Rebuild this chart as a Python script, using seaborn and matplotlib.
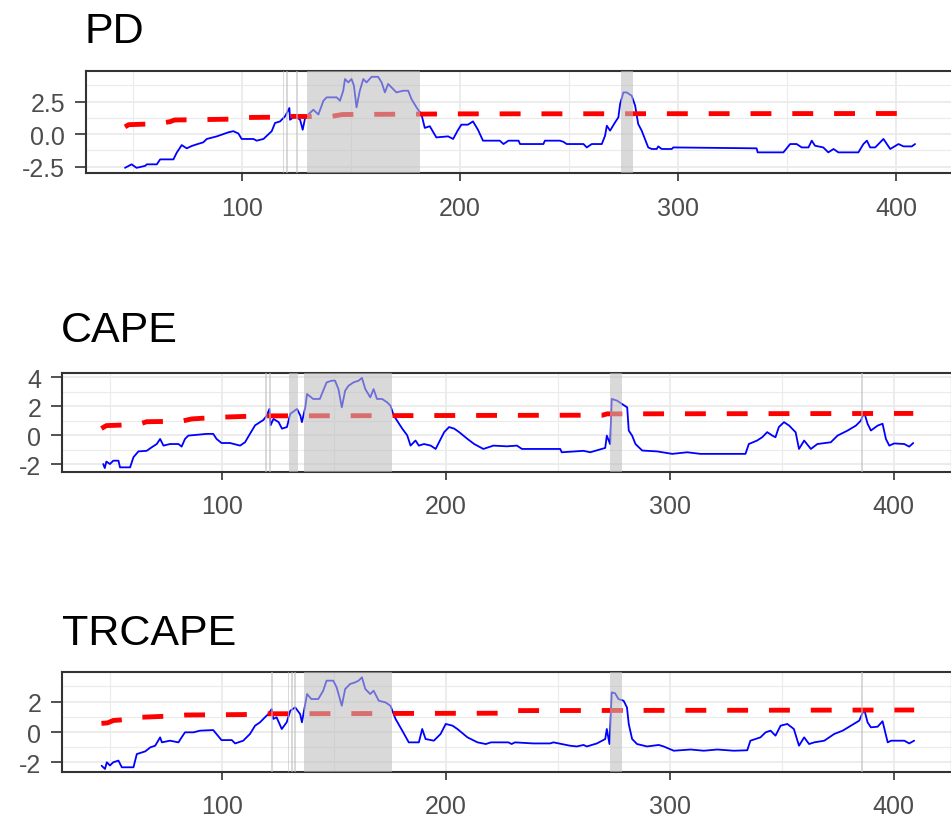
import matplotlib
matplotlib.use("Agg")
import matplotlib.pyplot as plt
import seaborn as sns

# ---------------- data ----------------
titles = ["PD", "CAPE", "TRCAPE"]
x_ticks = [100, 200, 300, 400]
x_minor = [50, 150, 250, 350]

# PD blue series
pd_x = [46.3, 49.3, 51.6, 55.5, 56.3, 60.9, 62.4, 68.5, 70.0, 72.3,
        74.6, 76.9, 80.0, 82.2, 83.8, 88.4, 93.7, 96.0, 98.3, 99.8,
        105.2, 106.7, 109.8, 113.6, 115.1, 117.4, 119.7, 121.7, 122.0, 124.3,
        126.6, 127.8, 128.9, 130.4, 132.7, 135.0, 137.3, 138.8, 143.4, 144.9,
        146.4, 147.2, 148.7, 150.2, 151.3, 152.5, 154.0, 155.6, 157.1, 159.4,
        162.4, 164.0, 165.5, 167.0, 169.3, 170.8, 173.9, 176.2, 177.7, 180.0,
        182.3, 183.8, 186.1, 189.1, 194.5, 196.8, 199.1, 200.6, 203.6, 205.9,
        208.2, 210.5, 218.2, 219.9, 222.2, 226.8, 227.5, 238.2, 238.9, 245.8,
        247.4, 248.9, 256.6, 258.1, 260.4, 265.0, 266.5, 267.3, 268.8, 271.1,
        272.6, 273.4, 274.9, 276.4, 278.7, 280.3, 281.7, 283.3, 284.8, 286.3,
        287.9, 290.2, 290.9, 292.5, 297.1, 297.8, 336.0, 336.5, 348.3, 351.4,
        354.4, 356.7, 359.8, 361.3, 362.8, 366.6, 368.9, 371.3, 373.5, 382.7,
        385.0, 386.6, 388.1, 390.4, 394.2, 397.3, 401.1, 403.4, 407.2, 408.7]
pd_y = [-2.6, -2.33, -2.6, -2.45, -2.33, -2.33, -1.95, -1.95, -1.44, -0.85,
        -1.1, -0.92, -0.75, -0.64, -0.38, -0.18, 0.13, 0.22, 0.04, -0.38,
        -0.38, -0.51, -0.38, 0.22, 0.85, 0.97, 1.36, 2.0, 1.1, 1.36,
        1.1, 0.33, 1.23, 1.5, 1.87, 1.5, 2.56, 2.82, 2.82, 2.56,
        3.33, 4.23, 3.97, 4.23, 3.72, 2.05, 3.33, 4.23, 3.97, 4.4,
        4.4, 3.97, 3.2, 3.85, 3.46, 3.2, 3.33, 3.33, 2.69, 2.05,
        1.5, 0.47, 0.6, -0.26, -0.18, -0.38, 0.33, 0.72, 0.72, 0.97,
        0.33, -0.51, -0.51, -0.77, -0.51, -0.51, -0.77, -0.77, -0.51, -0.51,
        -0.6, -0.77, -0.77, -1.03, -0.77, -0.77, -0.13, 0.64, 0.26, 0.90,
        1.28, 2.31, 3.2, 3.2, 2.95, 2.18, 0.77, 0.26, -0.38, -1.03,
        -1.15, -1.15, -0.95, -1.15, -1.15, -1.03, -1.1, -1.41, -1.41, -0.77,
        -0.77, -1.03, -1.03, -0.51, -0.9, -1.03, -1.41, -1.15, -1.41, -1.41,
        -0.77, -0.51, -1.03, -1.03, -0.38, -1.15, -0.77, -0.95, -0.95, -0.77]
# PD critical values (red dashed)
pd_cx = [46.3, 48.0, 63.0, 65.0, 67.0, 69.0, 98.0, 101.0, 118.0, 121.0, 140.0, 146.0, 200.0, 408.7]
pd_cy = [0.55, 0.72, 0.80, 0.90, 0.95, 1.08, 1.15, 1.27, 1.30, 1.36, 1.33, 1.50, 1.55, 1.58]
pd_span_start = [118.6, 120.2, 124.7, 129.7, 273.9]
pd_span_end = [119.4, 121.0, 125.5, 181.7, 279.4]

# CAPE blue series
cape_x = [47.1, 47.8, 48.5, 50.1, 51.6, 53.9, 54.6, 59.1, 60.6, 62.8,
          66.5, 68.7, 71.0, 72.5, 74.0, 76.9, 80.7, 82.1, 83.6, 85.1,
          89.6, 93.3, 96.2, 97.7, 99.9, 103.7, 108.2, 110.4, 112.6, 114.9,
          117.1, 118.6, 120.1, 121.3, 121.8, 123.1, 125.4, 126.9, 129.1, 130.6,
          133.6, 135.1, 135.8, 137.3, 138.1, 140.8, 143.8, 145.3, 146.8, 149.1,
          150.6, 152.1, 153.6, 155.1, 156.6, 158.8, 161.1, 162.6, 164.1, 166.3,
          167.8, 169.3, 171.6, 173.8, 175.3, 176.8, 178.3, 180.6, 182.8, 184.3,
          186.5, 188.0, 190.3, 193.3, 195.5, 197.0, 199.3, 201.5, 203.8, 206.0,
          209.7, 212.7, 216.8, 221.3, 227.3, 231.8, 234.0, 239.2, 251.1, 251.8,
          261.5, 264.5, 271.2, 271.9, 273.4, 274.1, 276.5, 278.7, 281.0, 281.7,
          283.2, 284.7, 287.7, 294.4, 301.1, 307.8, 313.7, 324.1, 333.8, 335.3,
          339.0, 341.3, 343.5, 345.8, 347.2, 348.7, 351.0, 353.3, 356.2, 357.7,
          360.0, 363.0, 365.9, 371.9, 374.9, 379.4, 383.1, 385.3, 386.8, 388.3,
          389.8, 392.8, 395.0, 396.5, 398.0, 400.2, 404.7, 406.9, 408.7]
cape_y = [-1.97, -2.25, -1.8, -1.97, -1.74, -1.74, -2.2, -2.2, -1.5, -1.1,
          -1.06, -0.82, -0.59, -0.24, -0.70, -0.59, -0.59, -0.77, -0.24, -0.01,
          0.06, 0.11, 0.11, -0.24, -0.52, -0.52, -0.70, -0.47, 0.11, 0.70,
          0.92, 1.07, 1.37, 1.83, 0.70, 1.14, 0.92, 0.47, 0.58, 1.49,
          1.83, 1.37, 0.92, 1.94, 2.86, 2.52, 2.52, 3.09, 3.66, 3.78,
          3.78, 3.2, 1.94, 3.09, 3.43, 3.66, 3.78, 3.97, 3.2, 2.63,
          3.2, 2.52, 2.52, 2.29, 2.06, 1.37, 1.02, 0.47, 0.01, -0.70,
          -0.35, -0.70, -0.59, -0.70, -0.93, -0.47, 0.23, 0.58, 0.47, 0.23,
          -0.24, -0.59, -0.93, -0.70, -0.75, -0.70, -0.93, -0.93, -0.93, -1.16,
          -1.06, -1.16, -0.86, -0.01, -0.6, 2.52, 2.4, 2.17, 1.94, 0.34,
          -0.01, -0.59, -1.04, -1.1, -1.27, -1.16, -1.27, -1.27, -1.27, -0.59,
          -0.35, -0.12, 0.23, -0.01, -0.12, 0.58, 0.92, 0.68, 0.22, -0.93,
          -0.35, -0.93, -0.59, -0.47, -0.01, 0.34, 0.68, 1.02, 1.60, 0.81,
          0.34, 0.68, 0.81, -0.24, -0.70, -0.55, -0.59, -0.77, -0.52]
cape_cx = [46.3, 48.5, 62.0, 64.0, 66.5, 82.0, 86.6, 97.7, 117.0, 270.0, 272.0, 408.7]
cape_cy = [0.48, 0.68, 0.75, 0.82, 0.95, 0.98, 1.14, 1.25, 1.35, 1.40, 1.49, 1.52]
cape_span_start = [119.5, 121.3, 130.0, 136.7, 273.3, 385.3]
cape_span_end = [120.3, 122.1, 134.0, 175.9, 278.8, 386.1]

# TRCAPE blue series
trcape_x = [46.4, 47.9, 48.7, 50.1, 51.6, 53.9, 55.4, 60.6, 62.1, 65.9,
            68.1, 70.3, 72.5, 73.3, 76.9, 80.7, 82.1, 83.6, 87.4, 90.3,
            96.2, 99.9, 104.5, 106.0, 109.6, 112.6, 114.9, 117.1, 119.3, 120.8,
            122.3, 123.0, 124.5, 126.8, 129.0, 130.6, 132.8, 135.0, 135.8, 138.1,
            140.0, 143.1, 145.3, 146.8, 149.8, 151.3, 153.6, 155.1, 157.3, 159.6,
            161.1, 162.6, 164.1, 166.3, 167.8, 170.1, 173.1, 175.3, 177.6, 180.6,
            183.5, 188.0, 189.5, 191.0, 194.7, 197.7, 200.0, 203.0, 205.2, 209.7,
            214.2, 217.9, 220.2, 228.0, 229.4, 230.9, 239.1, 246.6, 248.1, 255.5,
            258.5, 261.5, 263.0, 267.5, 271.2, 271.9, 273.1, 274.1, 275.6, 277.1,
            279.4, 280.9, 281.7, 283.2, 285.4, 289.9, 295.1, 297.3, 301.8, 309.3,
            315.2, 321.2, 328.6, 334.6, 336.0, 340.5, 342.8, 345.0, 347.2, 349.5,
            352.5, 355.4, 357.7, 360.0, 362.2, 364.5, 369.0, 373.4, 377.2, 380.9,
            384.6, 386.8, 388.3, 389.8, 392.8, 395.0, 397.3, 398.8, 404.7, 406.9,
            409.1]
trcape_y = [-2.22, -2.43, -1.99, -2.2, -1.99, -1.88, -2.32, -2.32, -1.45, -1.27,
            -1.01, -0.90, -0.35, -0.68, -0.57, -0.68, -0.35, -0.02, -0.02, 0.09,
            0.13, -0.53, -0.53, -0.75, -0.57, -0.13, 0.42, 0.64, 0.97, 1.18,
            1.51, 0.86, 0.97, 0.20, 0.64, 1.40, 1.62, 1.18, 0.64, 2.50,
            2.17, 2.17, 2.72, 3.38, 3.38, 2.94, 1.73, 2.83, 3.16, 3.27,
            3.38, 3.60, 2.83, 2.50, 2.72, 2.06, 1.95, 1.73, 0.86, 0.09,
            -0.68, -0.68, 0.20, -0.46, -0.57, -0.13, 0.53, 0.42, 0.20, -0.35,
            -0.68, -0.79, -0.68, -0.68, -0.79, -0.68, -0.75, -0.75, -0.68, -0.90,
            -0.95, -0.85, -0.95, -0.75, -0.46, 0.20, -0.79, 2.61, 2.55, 2.17,
            2.06, 1.62, 0.53, -0.46, -0.79, -0.95, -0.85, -0.95, -1.23, -1.15,
            -1.23, -1.15, -1.23, -1.2, -0.57, -0.35, -0.02, 0.09, -0.24, 0.42,
            0.53, 0.20, -0.90, -0.35, -0.79, -0.68, -0.57, -0.13, 0.09, 0.42,
            0.75, 1.51, 0.64, 0.31, 0.35, 0.71, -0.68, -0.57, -0.57, -0.75,
            -0.57]
trcape_cx = [46.3, 49.0, 51.6, 60.0, 62.1, 80.0, 84.0, 110.0, 117.0, 228.0, 231.7, 409.1]
trcape_cy = [0.57, 0.60, 0.76, 0.85, 0.96, 1.07, 1.12, 1.15, 1.20, 1.24, 1.41, 1.45]
trcape_span_start = [121.9, 129.4, 130.9, 132.3, 136.9, 273.3, 385.3]
trcape_span_end = [122.7, 130.2, 131.7, 133.1, 175.9, 278.8, 386.1]

# ---------------- style / layout ----------------
sns.set_theme(style="white")
plt.rcParams["font.family"] = ["Liberation Sans", "DejaVu Sans"]

W, H = 951, 829
fig = plt.figure(figsize=(W / 100, H / 100), dpi=100)

panels = [
    dict(title=titles[0], x=pd_x, y=pd_y, cx=pd_cx, cy=pd_cy,
         ss=pd_span_start, se=pd_span_end,
         yt=[-2.5, 0.0, 2.5], ytl=["-2.5", "0.0", "2.5"], ym=[-1.25, 1.25, 3.75],
         ylim=(-3.02, 4.87), xlim=(28.4, 426.1),
         box=(86, 953, 71.7, 174.3), tpos=(85, 43)),
    dict(title=titles[1], x=cape_x, y=cape_y, cx=cape_cx, cy=cape_cy,
         ss=cape_span_start, se=cape_span_end,
         yt=[-2, 0, 2, 4], ytl=["-2", "0", "2", "4"], ym=[-1, 1, 3],
         ylim=(-2.5, 4.31), xlim=(28.7, 426.0),
         box=(62, 952, 374, 472.7), tpos=(61, 342)),
    dict(title=titles[2], x=trcape_x, y=trcape_y, cx=trcape_cx, cy=trcape_cy,
         ss=trcape_span_start, se=trcape_span_end,
         yt=[-2, 0, 2], ytl=["-2", "0", "2"], ym=[-1, 1, 3],
         ylim=(-2.63, 3.95), xlim=(28.7, 426.0),
         box=(62, 952, 673, 773), tpos=(62, 645)),
]

for p in panels:
    l, r, t, b = p["box"]
    ax = fig.add_axes([l / W, 1 - b / H, (r - l) / W, (b - t) / H])
    ax.set_facecolor("white")

    sns.lineplot(x=p["x"], y=p["y"], ax=ax, color="#0000FF", linewidth=1.3,
                 estimator=None, sort=False, zorder=2)
    sns.lineplot(x=p["cx"], y=p["cy"], ax=ax, color="#FF0000", linewidth=3.5,
                 estimator=None, sort=False, zorder=2)
    red = ax.lines[-1]
    red.set_linestyle((0, (4.3, 4.3)))
    red.set_dash_capstyle("butt")

    for s, e in zip(p["ss"], p["se"]):
        ax.axvspan(s, e, color=(0.745, 0.745, 0.745), alpha=0.58, lw=0, zorder=3)

    ax.set_xlim(*p["xlim"])
    ax.set_ylim(*p["ylim"])
    ax.set_xticks(x_ticks, [str(v) for v in x_ticks])
    ax.set_xticks(x_minor, minor=True)
    ax.set_yticks(p["yt"], p["ytl"])
    ax.set_yticks(p["ym"], minor=True)
    ax.set_xlabel("")
    ax.set_ylabel("")

    ax.set_axisbelow(True)
    ax.grid(which="major", color="#EBEBEB", linewidth=1.3)
    ax.grid(which="minor", color="#EBEBEB", linewidth=0.8)

    for sp in ax.spines.values():
        sp.set_color("#333333")
        sp.set_linewidth(1.5)
        sp.set_visible(True)

    ax.tick_params(axis="x", which="major", length=6, width=1.2, color="#333333",
                   labelsize=18, labelcolor="#4D4D4D", pad=10, bottom=True)
    ax.tick_params(axis="y", which="major", length=8, width=1.2, color="#333333",
                   labelsize=18, labelcolor="#4D4D4D", pad=7, left=True)
    ax.tick_params(which="minor", length=0)

    fig.text(p["tpos"][0] / W, 1 - p["tpos"][1] / H, p["title"], fontsize=31,
             color="black", ha="left", va="baseline")

fig.savefig("out.png", dpi=100, facecolor="white")
